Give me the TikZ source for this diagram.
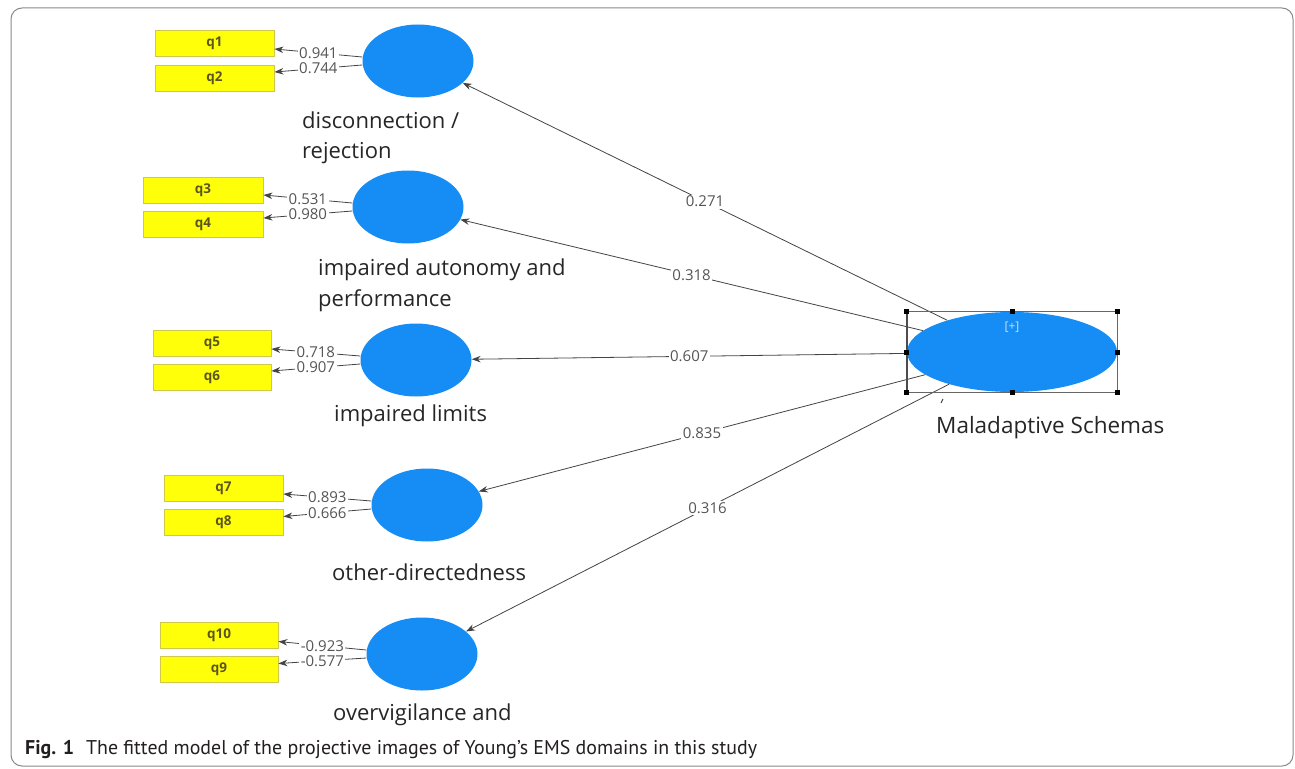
\documentclass[tikz,border=0pt]{standalone}
\usepackage{fontspec}
\setmainfont{Open Sans}
\newfontfamily\capfont{PT Sans}
\usetikzlibrary{arrows.meta,shapes.geometric}
\definecolor{lvblue}{HTML}{168CF5}
\definecolor{qyellow}{HTML}{FFFF0A}
\definecolor{qborder}{HTML}{CFC84A}
\definecolor{edgegray}{HTML}{444444}
\definecolor{numgray}{HTML}{555555}
\definecolor{qtext}{HTML}{5A5520}
\definecolor{framegray}{HTML}{8A8A8A}
\definecolor{plusblue}{HTML}{C9E1FA}
\definecolor{captext}{HTML}{231F20}
\begin{document}
\begin{tikzpicture}[x=1pt,y=-1pt,
  latent/.style={ellipse,fill=lvblue,inner sep=0pt,minimum width=111pt,minimum height=73pt},
  indbox/.style={rectangle,fill=qyellow,draw=qborder,line width=0.8pt,inner sep=0pt,minimum width=119pt,minimum height=26pt,text=qtext,font=\fontsize{13.5}{13.5}\selectfont\bfseries},
  conn/.style={draw=edgegray,line width=0.8pt,-{Stealth[length=9pt,width=6.5pt]}},
  coef/.style={fill=white,inner sep=1.5pt,text=numgray,font=\fontsize{15}{15}\selectfont},
  lvname/.style={anchor=base west,inner sep=0pt,text=black!85,font=\fontsize{22}{22}\selectfont},
  selbox/.style={draw=black!60,line width=0.8pt},
]
\path[use as bounding box] (0,0) rectangle (1295,768);
\fill[white] (0,0) rectangle (1295,768);
\draw[framegray,line width=1pt,rounded corners=11pt] (11,8) rectangle (1293,766);

% latent variables
\node[latent] (c1) at (418,61) {};
\node[latent] (c2) at (408,207) {};
\node[latent] (c3) at (416,360) {};
\node[latent] (c4) at (427,505) {};
\node[latent] (c5) at (422,654) {};
\node[latent,minimum width=210pt,minimum height=80pt] (ms) at (1012,352) {};

% indicators
\node[indbox] (q1) at (214.5,43) {q1};
\node[indbox] (q2) at (214.5,78) {q2};
\node[indbox,minimum width=120pt] (q3) at (203,190) {q3};
\node[indbox,minimum width=120pt] (q4) at (203,224) {q4};
\node[indbox,minimum width=118pt] (q5) at (212,343) {q5};
\node[indbox,minimum width=118pt] (q6) at (212,377) {q6};
\node[indbox] (q7) at (223.5,488) {q7};
\node[indbox] (q8) at (223.5,522.5) {q8};
\node[indbox,minimum width=118pt] (q10) at (219,635.5) {q10};
\node[indbox,minimum width=118pt] (q9) at (219,669.5) {q9};

% loadings
\draw[conn] ([yshift=4pt]c1.west) -- node[coef]{0.941} ([yshift=-6pt]q1.east);
\draw[conn] ([yshift=-4pt]c1.west) -- node[coef]{0.744} ([yshift=6pt]q2.east);
\draw[conn] ([yshift=4pt]c2.west) -- node[coef]{0.531} ([yshift=-5pt]q3.east);
\draw[conn] ([yshift=-4pt]c2.west) -- node[coef]{0.980} ([yshift=6pt]q4.east);
\draw[conn] ([yshift=4pt]c3.west) -- node[coef]{0.718} ([yshift=-6pt]q5.east);
\draw[conn] ([yshift=-4pt]c3.west) -- node[coef]{0.907} ([yshift=6pt]q6.east);
\draw[conn] ([yshift=4pt]c4.west) -- node[coef]{0.893} ([yshift=-6pt]q7.east);
\draw[conn] ([yshift=-4pt]c4.west) -- node[coef]{0.666} ([yshift=6pt]q8.east);
\draw[conn] ([yshift=4pt]c5.west) -- node[coef]{-0.923} ([yshift=-6pt]q10.east);
\draw[conn] ([yshift=-4pt]c5.west) -- node[coef]{-0.577} ([yshift=6pt]q9.east);

% structural paths
\draw[conn] (ms) -- node[coef]{0.271} (c1);
\draw[conn] (ms) -- node[coef]{0.318} (c2);
\draw[conn] (ms) -- node[coef]{0.607} (c3);
\draw[conn] (ms) -- node[coef]{0.835} (c4);
\draw[conn] (ms) -- node[coef]{0.316} (c5);

% selection frame
\draw[selbox] (ms.west |- ms.north) rectangle (ms.east |- ms.south);
\draw[black!70,line width=1.6pt] (ms.west |- ms.north) -- (ms.west |- ms.south);
\foreach \p in {(ms.west |- ms.north),(ms.north),(ms.east |- ms.north),(ms.west),(ms.east),(ms.west |- ms.south),(ms.south),(ms.east |- ms.south)}
  \fill[black] \p ++(-2.5,-2.5) rectangle ++(5,5);
\node[text=plusblue,inner sep=0pt,font=\fontsize{12}{12}\selectfont] (plus) at (1012,327) {[+]};
\draw[edgegray,line width=1pt] (941,403) -- (943,399);

% names
\node[lvname] (n1a) at (302,128) {disconnection /};
\node[lvname] (n1b) at (302,158) {rejection};
\node[lvname] (n2a) at (318,275) {impaired autonomy and};
\node[lvname] (n2b) at (318,306) {performance};
\node[lvname] (n3) at (334,421) {impaired limits};
\node[lvname] (n4) at (332,580) {other-directedness};
\node[lvname] (n5) at (333,720) {overvigilance and};
\node[lvname,font=\fontsize{22.5}{22.5}\selectfont] (n6) at (936,433) {Maladaptive Schemas};

% caption
\node[anchor=base west,inner sep=0pt,text=captext,font=\capfont\fontsize{19.9}{19.9}\selectfont] (cap) at (25,754) {\textbf{Fig. 1}\hspace{0.6em}The fitted model of the projective images of Young’s EMS domains in this study};
\end{tikzpicture}
\end{document}
